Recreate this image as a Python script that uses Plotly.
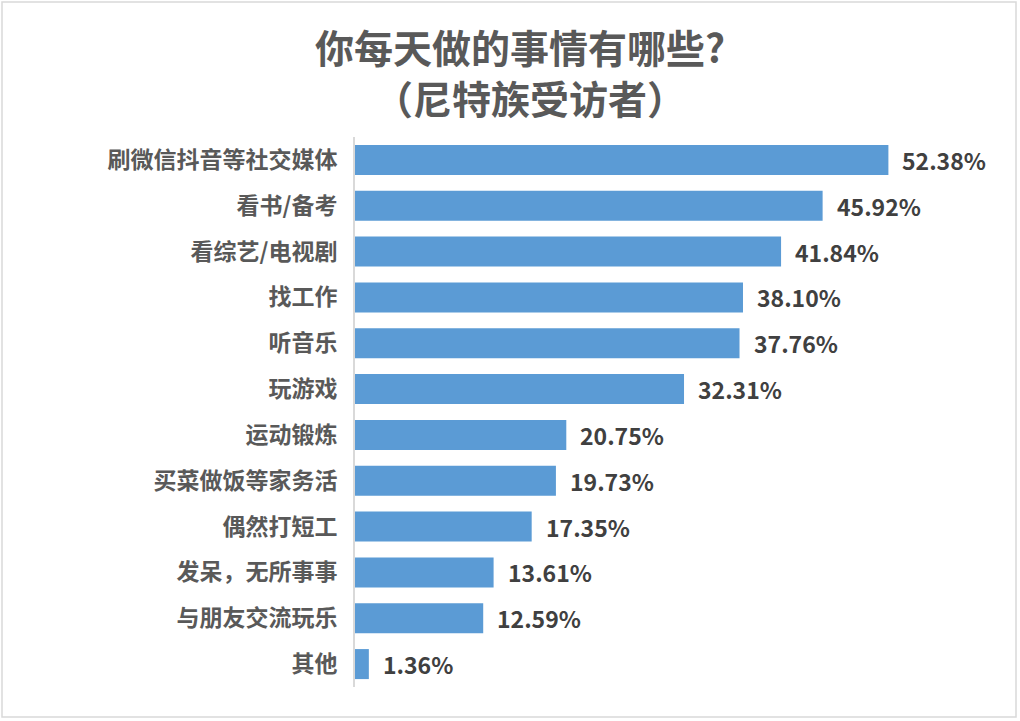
import plotly.graph_objects as go

categories = ["刷微信抖音等社交媒体", "看书/备考", "看综艺/电视剧", "找工作", "听音乐", "玩游戏",
              "运动锻炼", "买菜做饭等家务活", "偶然打短工", "发呆，无所事事", "与朋友交流玩乐", "其他"]
values = [52.38, 45.92, 41.84, 38.10, 37.76, 32.31, 20.75, 19.73, 17.35, 13.61, 12.59, 1.36]
value_labels = ["%.2f%%" % v for v in values]
title_lines = ["你每天做的事情有哪些?", "（尼特族受访者）"]

W, H = 1020, 721
ml, mr, mt, mb = 355, 54, 137, 34
pw = W - ml - mr
ph = H - mt - mb
FONT = "Noto Sans CJK SC"

fig = go.Figure()
fig.add_trace(go.Bar(
    x=values, y=categories, orientation="h",
    marker=dict(color="#5B9BD5", line=dict(width=0)),
    hoverinfo="skip",
))

for c, v, t in zip(categories, values, value_labels):
    fig.add_annotation(x=v, y=c, text="<b>%s</b>" % t, showarrow=False,
                       xanchor="left", xshift=12,
                       font=dict(family=FONT, size=23, color="#404040"))

# two title lines, placed in pixels
for txt, cx, cy in zip(title_lines, [520, 530], [46, 97]):
    fig.add_annotation(text="<b>%s</b>" % txt, showarrow=False,
                       xref="paper", yref="paper",
                       x=(cx - ml) / pw, y=1 + (mt - cy) / ph,
                       xanchor="center", yanchor="middle",
                       font=dict(family=FONT, size=39, color="#595959"))

fig.add_shape(type="rect", xref="paper", yref="paper",
              x0=-(ml - 2) / pw, x1=1 + (mr - 4) / pw,
              y0=-(mb - 4) / ph, y1=1 + (mt - 2) / ph,
              line=dict(color="#D9D9D9", width=1.5))

fig.update_layout(
    width=W, height=H,
    margin=dict(l=ml, r=mr, t=mt, b=mb),
    paper_bgcolor="white", plot_bgcolor="white",
    bargap=0.345,
    showlegend=False,
    xaxis=dict(range=[0, 60], visible=False, showgrid=False, zeroline=False),
    yaxis=dict(autorange="reversed", showgrid=False, zeroline=False,
               showline=True, linecolor="#D9D9D9", linewidth=2,
               ticks="", ticklabelstandoff=11,
               tickfont=dict(family=FONT, size=23, color="#595959"),
               tickmode="array", tickvals=categories,
               ticktext=["<b>%s</b>" % c for c in categories]),
)

fig.write_html("out.html", config={"displayModeBar": False},
               post_script="document.body.style.margin='0';")
